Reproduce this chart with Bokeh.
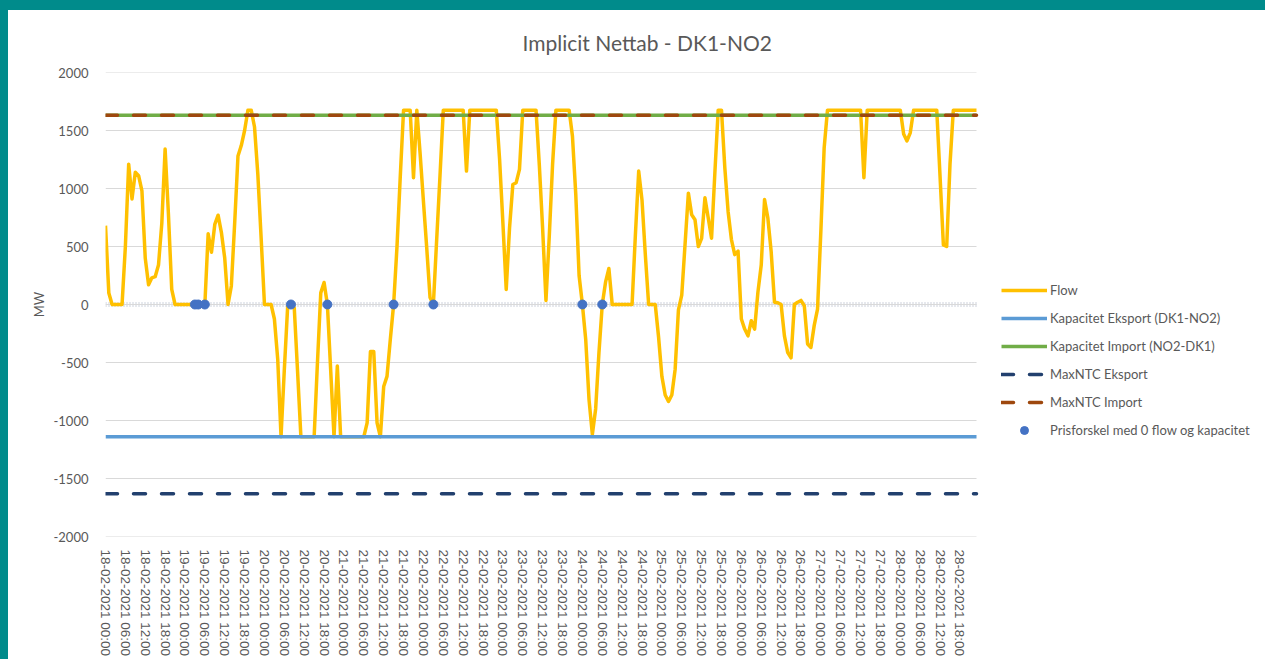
import datetime
from bokeh.plotting import figure
from bokeh.models import Range1d, FixedTicker, Legend, LegendItem, Spacer
from bokeh.layouts import column, row
from bokeh.embed import file_html
from bokeh.resources import INLINE

# ---------------- data ----------------
N_HOURS = 264
hours = list(range(N_HOURS))
start = datetime.datetime(2021, 2, 18, 0, 0)
tick_hours = list(range(0, N_HOURS, 6))
tick_labels = [(start + datetime.timedelta(hours=h)).strftime("%d-%m-%Y %H:%M") for h in tick_hours]

flow_18 = [680, 100, 0, 0, 0, 0, 500, 1210, 910, 1140, 1110, 980, 400, 170, 230, 240, 340, 700, 1340, 780, 130, 0, 0, 0]
flow_19 = [0, 0, 0, 0, 0, 0, 0, 610, 450, 690, 770, 620, 400, 0, 160, 700, 1280, 1370, 1500, 1675, 1675, 1530, 1120, 570]
flow_20 = [0, 0, 0, -125, -470, -1140, -560, -20, 0, -30, -580, -1140, -1140, -1140, -1140, -1140, -500, 100, 190, 0, -570, -1140, -530, -1140]
flow_21 = [-1140, -1140, -1140, -1140, -1140, -1140, -1140, -1020, -406, -406, -1020, -1140, -707, -620, -300, 0, 490, 1100, 1675, 1675, 1675, 1093, 1675, 1300]
flow_22 = [890, 485, 60, 0, 560, 1110, 1675, 1675, 1675, 1675, 1675, 1675, 1675, 1150, 1675, 1675, 1675, 1675, 1675, 1675, 1675, 1675, 1675, 1250]
flow_23 = [700, 130, 660, 1035, 1050, 1165, 1675, 1675, 1675, 1675, 1675, 1200, 650, 35, 590, 1210, 1675, 1675, 1675, 1675, 1675, 1450, 950, 250]
flow_24 = [0, -300, -820, -1120, -900, -415, 0, 195, 310, 0, 0, 0, 0, 0, 0, 0, 600, 1150, 900, 430, 0, 0, 0, -280]
flow_25 = [-620, -780, -836, -780, -560, -47, 80, 520, 960, 774, 731, 500, 570, 920, 745, 571, 1136, 1675, 1675, 1180, 800, 560, 430, 460]
flow_26 = [-125, -212, -270, -140, -212, 107, 340, 905, 745, 455, 20, 15, 0, -270, -415, -460, 0, 20, 35, -10, -340, -370, -180, -40]
flow_27 = [630, 1350, 1675, 1675, 1675, 1675, 1675, 1675, 1675, 1675, 1675, 1675, 1675, 1093, 1675, 1675, 1675, 1675, 1675, 1675, 1675, 1675, 1675, 1675]
flow_28 = [1675, 1470, 1410, 1480, 1675, 1675, 1675, 1675, 1675, 1675, 1675, 1675, 1100, 513, 500, 1210, 1675, 1675, 1675, 1675, 1675, 1675, 1675, 1675]
flow = (flow_18 + flow_19 + flow_20 + flow_21 + flow_22 + flow_23 + flow_24
        + flow_25 + flow_26 + flow_27 + flow_28)

kapacitet_eksport_mw = -1140
kapacitet_import_mw = 1632
maxntc_eksport_mw = -1632
maxntc_import_mw = 1632
kapacitet_eksport = [kapacitet_eksport_mw] * N_HOURS
kapacitet_import = [kapacitet_import_mw] * N_HOURS
maxntc_eksport = [maxntc_eksport_mw] * N_HOURS
maxntc_import = [maxntc_import_mw] * N_HOURS

pris_hours = [27, 28, 30, 56, 67, 87, 99, 144, 150]
pris_values = [0, 0, 0, 0, 0, 0, 0, 0, 0]

y_ticks = [-2000, -1500, -1000, -500, 0, 500, 1000, 1500, 2000]
y_tick_labels = ["-2000", "-1500", "-1000", "-500", "0", "500", "1000", "1500", "2000"]

series_names = ["Flow", "Kapacitet Eksport (DK1-NO2)", "Kapacitet Import (NO2-DK1)",
                "MaxNTC Eksport", "MaxNTC Import", "Prisforskel med 0 flow og kapacitet"]
title_text = "Implicit Nettab - DK1-NO2"

# ---------------- layout constants ----------------
GRAY = "#595959"
FONT = "Lato"
TEAL = "#008B8B"
FIG_W, FIG_H = 1257, 649
BORDER_L, BORDER_T, BORDER_B = 97, 62, 122
PLOT_AREA_W = 871                      # width of the data area in px
FRAME_W = FIG_W - BORDER_L             # frame also holds the legend area
last_hour = N_HOURS - 1
x_end = last_hour * FRAME_W / PLOT_AREA_W

p = figure(width=FIG_W, height=FIG_H, output_backend="svg", toolbar_location=None,
           x_range=Range1d(0, x_end), y_range=Range1d(y_ticks[0], y_ticks[-1]),
           min_border_left=BORDER_L, min_border_right=0, min_border_top=BORDER_T,
           min_border_bottom=BORDER_B,
           background_fill_color="white", border_fill_color="white", outline_line_color=None)

p.title.text = title_text
p.title.align = "left"
p.title.offset = 417
p.title.standoff = 35
p.title.text_font = FONT
p.title.text_font_size = "21px"
p.title.text_font_style = "normal"
p.title.text_color = GRAY

# y axis
p.yaxis.ticker = FixedTicker(ticks=y_ticks)
p.yaxis.major_label_overrides = {t: s for t, s in zip(y_ticks, y_tick_labels)}
p.yaxis.axis_line_color = None
p.yaxis.major_tick_line_color = None
p.yaxis.minor_tick_line_color = None
p.yaxis.major_label_text_font = FONT
p.yaxis.major_label_text_font_size = "13px"
p.yaxis.major_label_text_color = GRAY
p.yaxis.major_label_standoff = 11
p.yaxis.axis_label = "MW"
p.yaxis.axis_label_text_font = FONT
p.yaxis.axis_label_text_font_size = "13px"
p.yaxis.axis_label_text_font_style = "normal"
p.yaxis.axis_label_text_color = GRAY
p.yaxis.axis_label_standoff = 4

# x axis
p.xaxis.ticker = FixedTicker(ticks=tick_hours)
p.xaxis.major_label_overrides = {h: lbl for h, lbl in zip(tick_hours, tick_labels)}
p.xaxis.major_label_orientation = "vertical"
p.xaxis.axis_line_color = None
p.xaxis.major_tick_line_color = None
p.xaxis.minor_tick_line_color = None
p.xaxis.major_label_text_font = "Liberation Sans"
p.xaxis.major_label_text_font_size = "13.5px"
p.xaxis.major_label_text_color = GRAY
p.xaxis.major_label_standoff = 7

p.xgrid.grid_line_color = None
p.ygrid.grid_line_color = None

# horizontal gridlines limited to the data area
grid_ticks = [t for t in y_ticks if t != 0]
p.multi_line(xs=[[0, last_hour]] * len(grid_ticks), ys=[[t, t] for t in grid_ticks],
             line_color="#D9D9D9", line_width=1, level="underlay")
# zero category axis with tick marks
p.line([0, last_hour], [0, 0], line_color="#CDD2DC", line_width=5, line_dash="1 2",
       level="underlay")
p.line([0, last_hour], [0, 0], line_color="#D9D9D9", line_width=1, level="underlay")

r_flow = p.line(hours, flow, line_color="#FFC000", line_width=3.5, line_join="round")
r_keks = p.line(hours, kapacitet_eksport, line_color="#5B9BD5", line_width=3.5)
r_kimp = p.line(hours, kapacitet_import, line_color="#70AD47", line_width=3.5)
r_meks = p.line(hours, maxntc_eksport, line_color="#22406E", line_width=3.5,
                line_dash="12 16", line_cap="round")
r_mimp = p.line(hours, maxntc_import, line_color="#9E480E", line_width=3.5,
                line_dash="12 16", line_cap="round")
r_pris = p.scatter(pris_hours, pris_values, size=9, fill_color="#4472C4", line_color="#4472C4")

legend = Legend(items=[LegendItem(label=n, renderers=[r]) for n, r in
                       zip(series_names, [r_flow, r_keks, r_kimp, r_meks, r_mimp, r_pris])],
                location=(896, 96), orientation="vertical",
                glyph_width=46, glyph_height=20, label_height=20, spacing=8,
                label_standoff=3, padding=0, margin=0,
                label_text_font=FONT, label_text_font_size="13px", label_text_color=GRAY,
                border_line_color=None, background_fill_alpha=0)
p.add_layout(legend)

top_band = Spacer(width=FIG_W + 8, height=10, styles={"background-color": TEAL})
left_band = Spacer(width=8, height=FIG_H, styles={"background-color": TEAL})
root = column(top_band, row(left_band, p))

open("out.html", "w").write(file_html(root, INLINE))
